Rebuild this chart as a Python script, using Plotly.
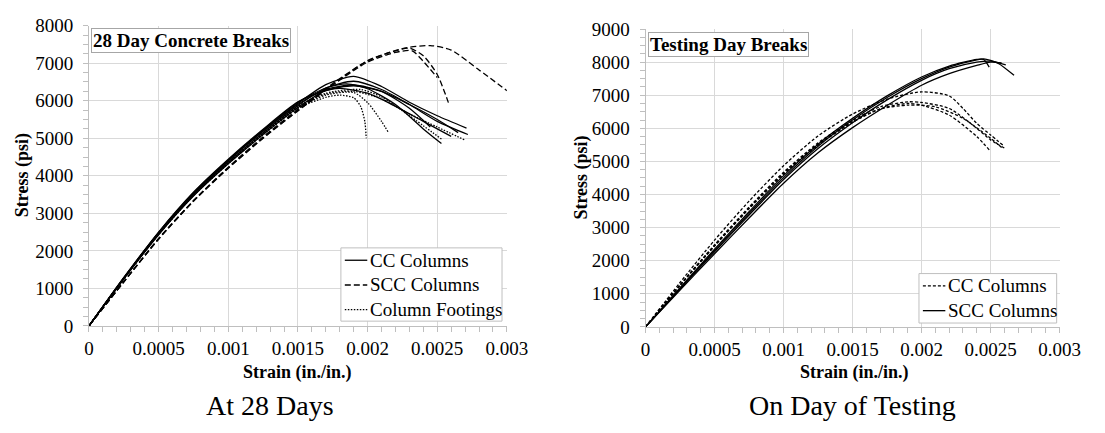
import plotly.graph_objects as go

# ---- 28-day breaks: strain (in./in.) and stress (psi) per specimen ----
cc28_strain = [
    [0, 0.00025, 0.0005, 0.00075, 0.001, 0.00125, 0.0015, 0.0017, 0.0019, 0.0021, 0.0023, 0.0025, 0.00271],
    [0, 0.00025, 0.0005, 0.00075, 0.001, 0.00125, 0.0015, 0.0017, 0.0019, 0.0021, 0.0023, 0.0025, 0.00272],
    [0, 0.00025, 0.0005, 0.00075, 0.001, 0.00125, 0.0015, 0.0017, 0.00185, 0.002, 0.0022, 0.0024, 0.00253],
    [0, 0.00025, 0.0005, 0.00075, 0.001, 0.00125, 0.0015, 0.0017, 0.0019, 0.0021, 0.0023, 0.0025, 0.00265],
    [0, 0.00025, 0.0005, 0.00075, 0.001, 0.00125, 0.0015, 0.0017, 0.0018, 0.002, 0.0022, 0.0024, 0.0026],
    [0, 0.00025, 0.0005, 0.00075, 0.001, 0.00125, 0.0015, 0.0017, 0.0019, 0.0021, 0.0023, 0.00245],
]
cc28_stress = [
    [0, 1270, 2470, 3520, 4400, 5200, 5930, 6430, 6650, 6380, 5960, 5600, 5270],
    [0, 1260, 2450, 3490, 4360, 5150, 5870, 6340, 6520, 6300, 5900, 5450, 5100],
    [0, 1280, 2490, 3540, 4420, 5220, 5960, 6340, 6450, 6320, 5900, 5250, 4860],
    [0, 1250, 2430, 3460, 4320, 5100, 5820, 6270, 6400, 6250, 5900, 5500, 5150],
    [0, 1290, 2500, 3560, 4440, 5240, 5970, 6270, 6330, 6200, 5850, 5450, 5050],
    [0, 1275, 2480, 3530, 4410, 5190, 5900, 6300, 6420, 6250, 5800, 5300],
]

scc28_strain = [
    [0, 0.00025, 0.0005, 0.00075, 0.001, 0.00125, 0.0015, 0.00175, 0.002, 0.00225, 0.00245, 0.0026, 0.0028, 0.003],
    [0, 0.00025, 0.0005, 0.00075, 0.001, 0.00125, 0.0015, 0.00175, 0.002, 0.0022, 0.0023, 0.0024, 0.0025, 0.00258],
    [0, 0.00025, 0.0005, 0.00075, 0.001, 0.00125, 0.0015, 0.00175, 0.002, 0.0022, 0.00232, 0.0024, 0.0025],
]
scc28_stress = [
    [0, 1180, 2330, 3340, 4230, 5040, 5770, 6460, 7060, 7390, 7470, 7350, 6820, 6270],
    [0, 1170, 2310, 3320, 4200, 5000, 5730, 6430, 7070, 7330, 7400, 7200, 6700, 5950],
    [0, 1175, 2320, 3330, 4210, 5010, 5740, 6420, 7030, 7290, 7330, 7050, 6620],
]

ft28_strain = [
    [0, 0.00025, 0.0005, 0.00075, 0.001, 0.00125, 0.0015, 0.0017, 0.0018, 0.0019, 0.00195, 0.00198, 0.00199],
    [0, 0.00025, 0.0005, 0.00075, 0.001, 0.00125, 0.0015, 0.0017, 0.0019, 0.002, 0.0021, 0.00215],
    [0, 0.00025, 0.0005, 0.00075, 0.001, 0.00125, 0.0015, 0.0017, 0.0019, 0.0021, 0.0023, 0.0025, 0.0027],
    [0, 0.00025, 0.0005, 0.00075, 0.001, 0.00125, 0.0015, 0.0017, 0.00195, 0.0021, 0.0023, 0.00253],
]
ft28_stress = [
    [0, 1260, 2450, 3480, 4340, 5110, 5800, 6090, 6150, 6080, 5850, 5450, 5000],
    [0, 1255, 2440, 3470, 4330, 5100, 5800, 6150, 6220, 5950, 5450, 5150],
    [0, 1265, 2460, 3490, 4350, 5130, 5830, 6180, 6250, 6050, 5650, 5300, 4950],
    [0, 1270, 2470, 3500, 4360, 5140, 5850, 6200, 6300, 6100, 5600, 4980],
]

# ---- Testing-day breaks ----
cct_strain = [
    [0, 0.00025, 0.0005, 0.00075, 0.001, 0.00125, 0.0015, 0.00175, 0.002, 0.0022, 0.0023, 0.0024, 0.0025, 0.0026],
    [0, 0.00025, 0.0005, 0.00075, 0.001, 0.00125, 0.0015, 0.0017, 0.0019, 0.002, 0.0022, 0.0024, 0.0025, 0.00261],
    [0, 0.00025, 0.0005, 0.00075, 0.001, 0.00125, 0.0015, 0.0017, 0.0019, 0.002, 0.0022, 0.0024, 0.00249],
    [0, 0.00025, 0.0005, 0.00075, 0.001, 0.00125, 0.0015, 0.0017, 0.0019, 0.0021, 0.0023, 0.0025, 0.00258],
]
cct_stress = [
    [0, 1340, 2620, 3800, 4870, 5770, 6430, 6880, 7100, 6980, 6600, 6150, 5800, 5450],
    [0, 1270, 2480, 3620, 4670, 5560, 6240, 6650, 6800, 6780, 6600, 6000, 5650, 5380],
    [0, 1250, 2440, 3570, 4610, 5490, 6180, 6590, 6750, 6700, 6400, 5750, 5350],
    [0, 1260, 2450, 3590, 4640, 5520, 6200, 6580, 6700, 6650, 6300, 5700, 5420],
]

scct_strain = [
    [0, 0.00025, 0.0005, 0.00075, 0.001, 0.00125, 0.0015, 0.00175, 0.002, 0.0022, 0.0024, 0.00245, 0.0025, 0.00256, 0.00267],
    [0, 0.00025, 0.0005, 0.00075, 0.001, 0.00125, 0.0015, 0.00175, 0.002, 0.0022, 0.0024, 0.00245, 0.00249],
    [0, 0.00025, 0.0005, 0.00075, 0.001, 0.00125, 0.0015, 0.00175, 0.002, 0.0022, 0.0024, 0.0025, 0.00261],
    [0, 0.00025, 0.0005, 0.00075, 0.001, 0.00125, 0.0015, 0.00175, 0.002, 0.0022, 0.0024, 0.0025, 0.00258],
]
scct_stress = [
    [0, 1160, 2310, 3430, 4510, 5460, 6250, 6930, 7500, 7850, 8070, 8100, 8050, 7950, 7600],
    [0, 1180, 2350, 3480, 4570, 5520, 6300, 6980, 7550, 7880, 8080, 8080, 7850],
    [0, 1140, 2270, 3380, 4450, 5390, 6170, 6860, 7450, 7800, 8000, 8030, 7920],
    [0, 1110, 2210, 3290, 4340, 5260, 6020, 6690, 7300, 7650, 7900, 8000, 7980],
]

x_ticks = [0, 0.0005, 0.001, 0.0015, 0.002, 0.0025, 0.003]
x_ticklabels = ["0", "0.0005", "0.001", "0.0015", "0.002", "0.0025", "0.003"]

SERIF = "Liberation Serif"
GRID = "#d9d9d9"
AXIS = "#bfbfbf"
BOX = "#a6a6a6"

FW, FH = 1105, 433


def px(x):
    return x / FW


def py(y):
    return 1 - y / FH


fig = go.Figure()


def add_group(strains, stresses, name, dash, xa, ya):
    for sx, sy in zip(strains, stresses):
        fig.add_trace(go.Scatter(
            x=sx, y=sy, mode="lines", name=name, showlegend=False,
            xaxis=xa, yaxis=ya,
            line=dict(color="black", width=1.3, dash=dash, shape="spline", smoothing=0.7),
            hoverinfo="skip",
        ))


DASH_SCC28 = "6px,3px"
DOT_FT = "1.5px,1.5px"
DASH_CCT = "3px,2px"

add_group(cc28_strain, cc28_stress, "CC Columns", "solid", "x", "y")
add_group(scc28_strain, scc28_stress, "SCC Columns", DASH_SCC28, "x", "y")
add_group(ft28_strain, ft28_stress, "Column Footings", DOT_FT, "x", "y")
add_group(cct_strain, cct_stress, "CC Columns", DASH_CCT, "x2", "y2")
add_group(scct_strain, scct_stress, "SCC Columns", "solid", "x2", "y2")


def xaxis_style(x0, x1, anchor):
    return dict(
        domain=[px(x0), px(x1)], anchor=anchor, range=[0, 0.003],
        tickvals=x_ticks, ticktext=x_ticklabels,
        showgrid=True, gridcolor=GRID, gridwidth=1,
        showline=True, linecolor=AXIS, linewidth=1,
        ticks="outside", ticklen=5, tickcolor=AXIS,
        minor=dict(dtick=0.0001, ticks="outside", ticklen=5, tickcolor=AXIS, showgrid=False),
        tickfont=dict(family=SERIF, size=19, color="black"),
        zeroline=False, fixedrange=True,
    )


def yaxis_style(y0, y1, anchor, top):
    return dict(
        domain=[py(y0), py(y1)], anchor=anchor, range=[0, top], dtick=1000,
        showgrid=True, gridcolor=GRID, gridwidth=1,
        showline=True, linecolor=AXIS, linewidth=1,
        ticks="outside", ticklen=5, tickcolor=AXIS,
        minor=dict(dtick=250, ticks="outside", ticklen=5, tickcolor=AXIS, showgrid=False),
        tickfont=dict(family=SERIF, size=19, color="black"),
        ticklabelstandoff=6,
        zeroline=False, fixedrange=True,
    )


fig.update_layout(
    width=FW, height=FH,
    margin=dict(l=0, r=0, t=0, b=0),
    paper_bgcolor="white", plot_bgcolor="white",
    xaxis=xaxis_style(86, 514, "y"),
    yaxis=yaxis_style(332, 16.5, "x", 8000),
    xaxis2=xaxis_style(656, 1080, "y2"),
    yaxis2=yaxis_style(333, 20, "x2", 9000),
    showlegend=False,
)


def text(x, y, s, size, bold=False, angle=0, xanchor="center", **kw):
    fig.add_annotation(
        xref="paper", yref="paper", x=px(x), y=py(y), xanchor=xanchor, yanchor="middle",
        text=f"<b>{s}</b>" if bold else s, showarrow=False, textangle=angle,
        font=dict(family=SERIF, size=size, color="black"), **kw,
    )


# Axis titles
text(300, 381, "Strain (in./in.)", 18, bold=True)
text(870, 381, "Strain (in./in.)", 18, bold=True)
text(18, 174, "Stress (psi)", 18, bold=True, angle=-90)
text(590, 176, "Stress (psi)", 18, bold=True, angle=-90)

# Panel titles inside the plotting areas
fig.add_annotation(
    xref="paper", yref="paper", x=px(88), y=py(19), xanchor="left", yanchor="top",
    text="<b>28 Day Concrete Breaks</b>", showarrow=False,
    font=dict(family=SERIF, size=19, color="black"),
    bgcolor="white", bordercolor=BOX, borderwidth=1, borderpad=1,
)
fig.add_annotation(
    xref="paper", yref="paper", x=px(659), y=py(23), xanchor="left", yanchor="top",
    text="<b>Testing Day Breaks</b>", showarrow=False,
    font=dict(family=SERIF, size=19, color="black"),
    bgcolor="white", bordercolor=BOX, borderwidth=1, borderpad=1,
)


def legend_box(x0, y0, x1, y1, rows):
    fig.add_shape(type="rect", xref="paper", yref="paper",
                  x0=px(x0), x1=px(x1), y0=py(y0), y1=py(y1),
                  line=dict(color=AXIS, width=1), fillcolor="white", layer="above")
    for (label, dash, yc) in rows:
        fig.add_shape(type="line", xref="paper", yref="paper",
                      x0=px(x0 + 4), x1=px(x0 + 27), y0=py(yc), y1=py(yc),
                      line=dict(color="black", width=1.3, dash=dash), layer="above")
        text(x0 + 28, yc, label, 19, xanchor="left")


legend_box(344, 250, 509, 327, [
    ("CC Columns", "solid", 263),
    ("SCC Columns", DASH_SCC28, 289),
    ("Column Footings", DOT_FT, 315),
])
legend_box(936, 277, 1077, 329, [
    ("CC Columns", DASH_CCT, 290),
    ("SCC Columns", "solid", 316),
])

# Captions under each chart
text(271, 416, "At 28 Days", 28)
text(868, 416, "On Day of Testing", 28)

fig.write_html("out.html")
